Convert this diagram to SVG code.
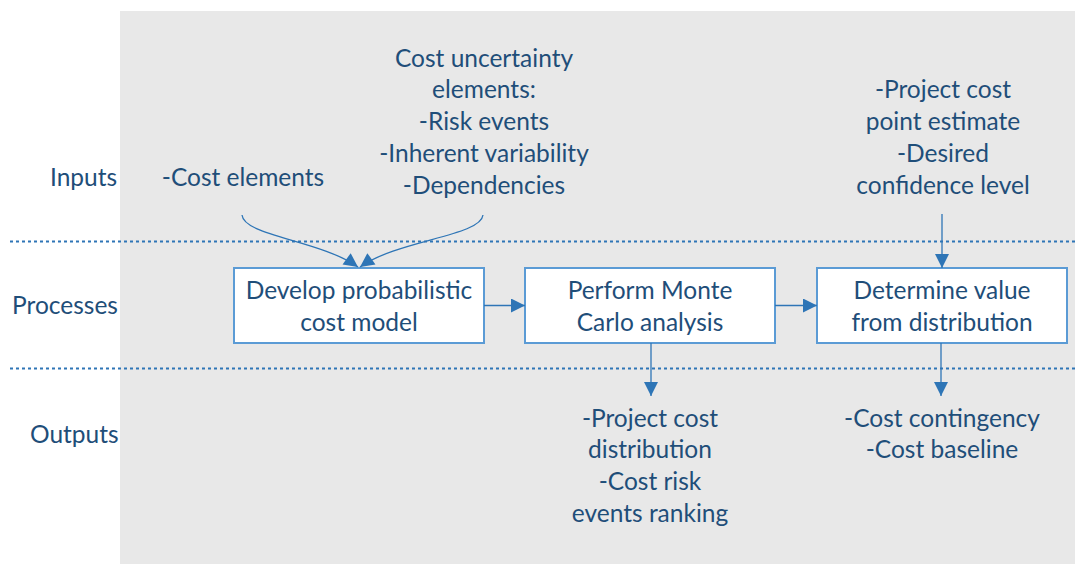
<svg xmlns="http://www.w3.org/2000/svg" width="1075" height="565" viewBox="0 0 1075 565">
<style>
.t{font-family:Lato,"Liberation Sans",sans-serif;font-size:24.5px;fill:#1F4E79;text-anchor:middle}
.l{text-anchor:start}
.box{fill:#fff;stroke:#5B9BD5;stroke-width:2}
.c{fill:none;stroke:#2E75B6;stroke-width:1.3}
.d{fill:none;stroke:#2E75B6;stroke-width:2;stroke-dasharray:3 3}
</style>
<defs>
<marker id="a" viewBox="0 0 10 10" refX="10" refY="5" markerWidth="15" markerHeight="14" markerUnits="userSpaceOnUse" orient="auto">
<path d="M0,0 L10,5 L0,10 z" fill="#2E75B6"/>
</marker>
</defs>
<rect x="120" y="11" width="955" height="553" fill="#E8E8E8"/>
<line class="d" x1="10" y1="241.5" x2="1075" y2="241.5"/>
<line class="d" x1="10" y1="368.5" x2="1075" y2="368.5"/>
<g id="labels">
<text class="t l" x="50" y="186">Inputs</text>
<text class="t l" x="12" y="314">Processes</text>
<text class="t l" x="30" y="443">Outputs</text>
</g>
<g id="in1"><text class="t" x="243" y="186">-Cost elements</text></g>
<g id="in2">
<text class="t" x="484" y="67">Cost uncertainty</text>
<text class="t" x="484" y="98">elements:</text>
<text class="t" x="484" y="130">-Risk events</text>
<text class="t" x="484" y="162">-Inherent variability</text>
<text class="t" x="484" y="194">-Dependencies</text>
</g>
<g id="in3">
<text class="t" x="943" y="98">-Project cost</text>
<text class="t" x="943" y="130">point estimate</text>
<text class="t" x="943" y="162">-Desired</text>
<text class="t" x="943" y="194">confidence level</text>
</g>
<g id="p1">
<rect class="box" x="234" y="268" width="250" height="75"/>
<text class="t" x="359" y="299">Develop probabilistic</text>
<text class="t" x="359" y="331">cost model</text>
</g>
<g id="p2">
<rect class="box" x="525" y="268" width="250" height="75"/>
<text class="t" x="650" y="299">Perform Monte</text>
<text class="t" x="650" y="331">Carlo analysis</text>
</g>
<g id="p3">
<rect class="box" x="817" y="268" width="250" height="75"/>
<text class="t" x="942" y="299">Determine value</text>
<text class="t" x="942" y="331">from distribution</text>
</g>
<g id="out1">
<text class="t" x="650" y="427">-Project cost</text>
<text class="t" x="650" y="458">distribution</text>
<text class="t" x="650" y="490">-Cost risk</text>
<text class="t" x="650" y="522">events ranking</text>
</g>
<g id="out2">
<text class="t" x="942" y="427">-Cost contingency</text>
<text class="t" x="942" y="458">-Cost baseline</text>
</g>
<g id="connectors">
<path class="c" marker-end="url(#a)" d="M242,215 C244,236 320,240 358,267"/>
<path class="c" marker-end="url(#a)" d="M483,215 C481,236 398,240 360,267"/>
<path class="c" marker-end="url(#a)" d="M484,305.5 L525,305.5"/>
<path class="c" marker-end="url(#a)" d="M775,305.5 L817,305.5"/>
<path class="c" marker-end="url(#a)" d="M942,214 L942,268"/>
<path class="c" marker-end="url(#a)" d="M651,343 L651,396"/>
<path class="c" marker-end="url(#a)" d="M941,343 L941,396"/>
</g>
</svg>
